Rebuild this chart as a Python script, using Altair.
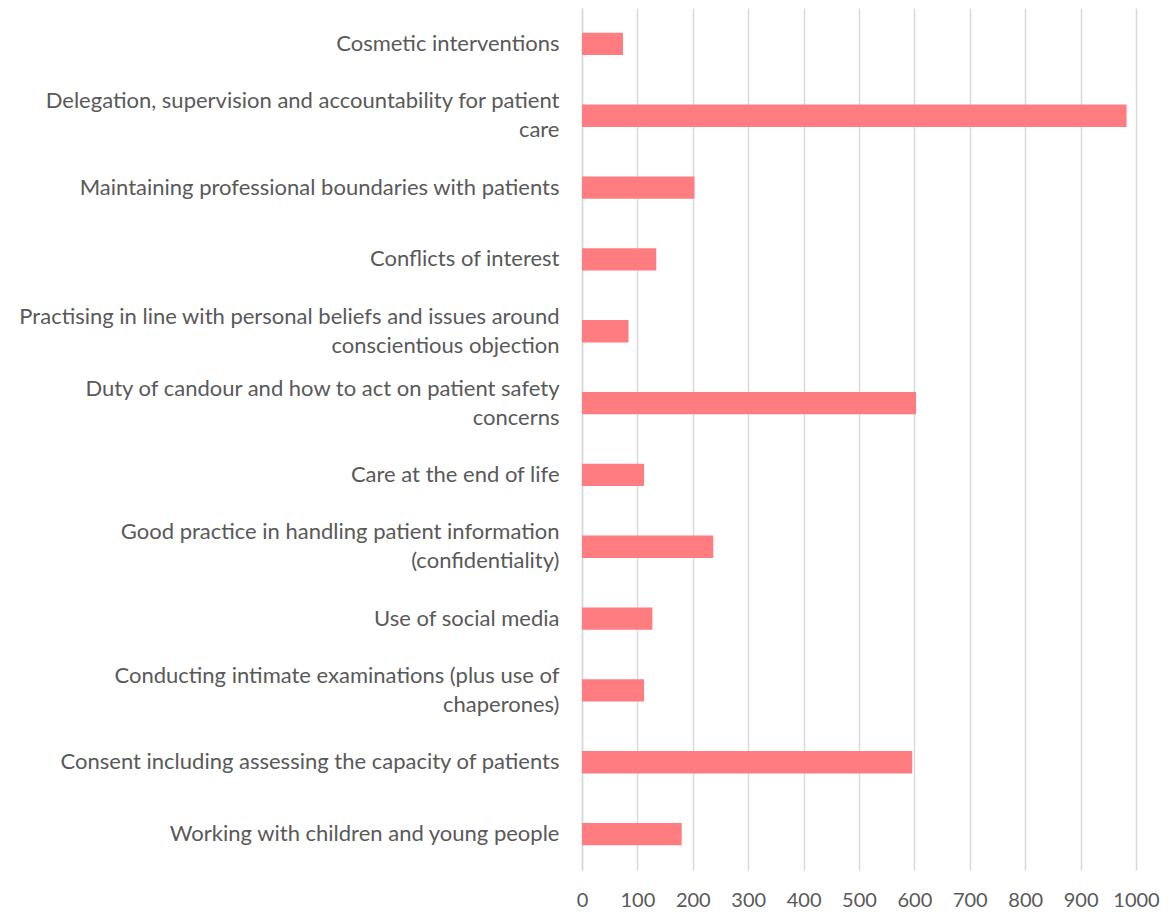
import altair as alt
import pandas as pd

categories = [
    "Cosmetic interventions",
    "Delegation, supervision and accountability for patient\ncare",
    "Maintaining professional boundaries with patients",
    "Conflicts of interest",
    "Practising in line with personal beliefs and issues around\nconscientious objection",
    "Duty of candour and how to act on patient safety\nconcerns",
    "Care at the end of life",
    "Good practice in handling patient information\n(confidentiality)",
    "Use of social media",
    "Conducting intimate examinations (plus use of\nchaperones)",
    "Consent including assessing the capacity of patients",
    "Working with children and young people",
]
values = [74, 983, 203, 134, 84, 603, 112, 237, 127, 112, 596, 180]
x_ticks = [0, 100, 200, 300, 400, 500, 600, 700, 800, 900, 1000]

df = pd.DataFrame({"category": categories, "value": values})

FONT = "Lato"
TEXT = "#595959"
GRID = "#d9d9d9"

chart = (
    alt.Chart(df)
    .mark_bar(color="#FF7C80")
    .encode(
        x=alt.X(
            "value:Q",
            scale=alt.Scale(domain=[0, 1000], nice=False),
            axis=alt.Axis(
                values=x_ticks,
                format="d",
                title=None,
                grid=True,
                gridColor=GRID,
                gridWidth=1.5,
                domain=False,
                ticks=False,
                labelOverlap=False,
                labelFlush=False,
                labelFont=FONT,
                labelFontSize=20,
                labelColor=TEXT,
                labelPadding=20,
            ),
        ),
        y=alt.Y(
            "category:N",
            sort=categories,
            scale=alt.Scale(paddingInner=0.69, paddingOuter=0.345),
            axis=alt.Axis(
                title=None,
                domain=True,
                domainColor=GRID,
                domainWidth=1.5,
                ticks=False,
                labelFont=FONT,
                labelFontSize=22,
                labelColor=TEXT,
                labelPadding=23,
                labelLimit=700,
                labelLineHeight=29,
                labelBaseline="middle",
                labelOffset={
                    "condition": {"test": "indexof(datum.label, '\\n') >= 0", "value": -14.5},
                    "value": 0,
                },
                labelExpr="split(datum.label, '\\n')",
            ),
        ),
        tooltip=["category", "value"],
    )
    .properties(
        width=554,
        height=862,
        autosize=alt.AutoSizeParams(type="none"),
        padding={"left": 574, "top": 0, "right": 26, "bottom": 40},
    )
    .configure_view(stroke=None)
)

chart.save("out.html", embed_options={"renderer": "svg", "actions": False})
